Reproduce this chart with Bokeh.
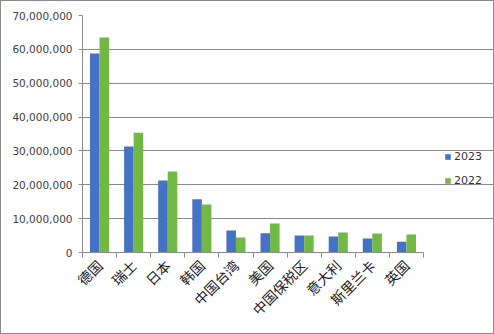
import numpy as np
from bokeh.plotting import figure
from bokeh.models import ColumnDataSource, FixedTicker, NumeralTickFormatter, Legend, LegendItem
from bokeh.transform import dodge
from bokeh.embed import file_html
from bokeh.resources import INLINE

categories = ["德国", "瑞士", "日本", "韩国", "中国台湾", "美国", "中国保税区", "意大利", "斯里兰卡", "英国"]
v2023 = [58.8e6, 31.3e6, 21.3e6, 15.7e6, 6.5e6, 5.7e6, 5.0e6, 4.7e6, 4.1e6, 3.2e6]
v2022 = [63.5e6, 35.4e6, 23.9e6, 14.2e6, 4.4e6, 8.6e6, 5.0e6, 5.9e6, 5.6e6, 5.3e6]
y_ticks = [0, 10e6, 20e6, 30e6, 40e6, 50e6, 60e6, 70e6]

n = len(categories)
centers = list(np.arange(n) + 0.5)
bounds = list(np.arange(n + 1).astype(float))
src = ColumnDataSource(dict(x=centers, a=v2023, b=v2022))

W, H = 494, 334
left, plot_right = 81, 422
x_end = n * (W - left) / (plot_right - left)   # frame extends under the legend area

p = figure(width=W, height=H, output_backend="svg", toolbar_location=None,
           x_range=(0, x_end), y_range=(0, 70e6),
           min_border_left=left, min_border_right=0, min_border_top=14, min_border_bottom=83)
p.styles = {"box-sizing": "border-box", "border": "1px solid #8a8a8a"}
p.outline_line_color = None
p.background_fill_color = "white"

bw = 0.28
r1 = p.vbar(x=dodge("x", -bw / 2), top="a", width=bw, source=src, color="#4472C4", line_color=None)
r2 = p.vbar(x=dodge("x", bw / 2), top="b", width=bw, source=src, color="#72B844", line_color=None)

p.xgrid.grid_line_color = None
p.ygrid.grid_line_color = "#8a8a8a"
p.ygrid.grid_line_width = 1
p.ygrid.bounds = (0, n)

p.yaxis.ticker = FixedTicker(ticks=y_ticks)
p.yaxis.formatter = NumeralTickFormatter(format="0,0")
p.yaxis.axis_line_color = "#8a8a8a"
p.yaxis.major_tick_line_color = "#8a8a8a"
p.yaxis.major_tick_out = 4
p.yaxis.major_tick_in = 0
p.yaxis.minor_tick_line_color = None
p.yaxis.major_label_standoff = 6
p.yaxis.major_label_text_font = "DejaVu Sans"
p.yaxis.major_label_text_font_size = "10.5px"
p.yaxis.major_label_text_color = "#404040"

p.xaxis.bounds = (0, n)
p.xaxis.ticker = FixedTicker(ticks=centers, minor_ticks=bounds)
p.xaxis.major_label_overrides = {c: lab for c, lab in zip(centers, categories)}
p.xaxis.major_tick_line_color = None
p.xaxis.minor_tick_line_color = "#8a8a8a"
p.xaxis.minor_tick_out = 5
p.xaxis.minor_tick_in = 0
p.xaxis.axis_line_color = "#8a8a8a"
p.xaxis.major_label_orientation = np.pi / 4
p.xaxis.major_label_standoff = 4
p.xaxis.major_label_text_font = "Noto Sans CJK SC"
p.xaxis.major_label_text_font_size = "14px"
p.xaxis.major_label_text_color = "#222222"

legend = Legend(items=[LegendItem(label="2023", renderers=[r1]), LegendItem(label="2022", renderers=[r2])],
                location=(362, 62), padding=0, margin=0, spacing=4,
                glyph_width=7, glyph_height=7, label_height=20, label_standoff=3,
                border_line_color=None, background_fill_alpha=0,
                label_text_font="DejaVu Sans", label_text_font_size="11px", label_text_color="#333333")
p.add_layout(legend)

open("out.html", "w").write(file_html(p, INLINE))
